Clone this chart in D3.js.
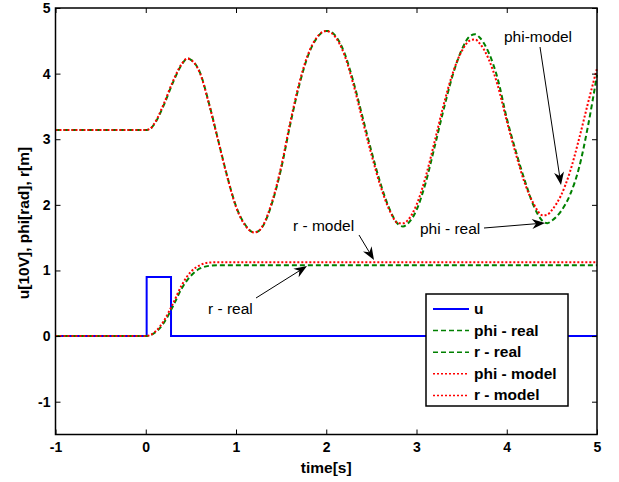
<!DOCTYPE html>
<meta charset="utf-8">
<head>
  <style>
    body { margin: 0; background: #fff; }
    text { font-family: "Liberation Sans", Arial, sans-serif; }
    .tick text { font-size: 14px; font-weight: bold; }
    .lbl { font-size: 15.5px; font-weight: bold; }
    .note { font-size: 15.5px; }
  </style>
</head>
<body>
<svg id="chart" width="619" height="482"></svg>
<script src="https://d3js.org/d3.v7.min.js"></script>
<script>

// data
var uT = [-1, 0.01, 0.01, 0.28, 0.28, 5];
var uV = [0, 0, 0.9, 0.9, 0, 0];

var phiT = [-1, 0, 0.05, 0.1, 0.2, 0.3, 0.4, 0.46, 0.5, 0.6, 0.7, 0.8, 0.9, 1.0, 1.1, 1.2, 1.25,
            1.3, 1.4, 1.5, 1.6, 1.7, 1.8, 1.9, 2.0, 2.03, 2.1, 2.2, 2.3, 2.4, 2.5, 2.6, 2.7, 2.8, 2.85, 2.9,
            3.0, 3.1, 3.2, 3.3, 3.4, 3.5, 3.6, 3.65, 3.7, 3.8, 3.9, 4.0, 4.1, 4.2, 4.3, 4.4, 4.45, 4.5,
            4.6, 4.7, 4.8, 4.9, 5.0];
var phiReal = [3.14, 3.14, 3.16, 3.24, 3.52, 3.86, 4.14, 4.23, 4.21, 4.02, 3.55, 3.0, 2.45, 1.98, 1.70, 1.58, 1.60,
               1.68, 2.03, 2.55, 3.22, 3.82, 4.28, 4.55, 4.65, 4.65, 4.58, 4.32, 3.88, 3.35, 2.82, 2.33, 1.94, 1.70, 1.67, 1.71,
               1.92, 2.33, 2.88, 3.45, 3.97, 4.36, 4.58, 4.60, 4.55, 4.32, 3.92, 3.32, 2.82, 2.37, 1.98, 1.75, 1.72, 1.76,
               1.90, 2.15, 2.56, 3.20, 3.98];
var phiModel = [3.14, 3.14, 3.16, 3.25, 3.54, 3.88, 4.15, 4.23, 4.21, 4.01, 3.54, 2.99, 2.44, 1.97, 1.69, 1.58, 1.60,
                1.69, 2.05, 2.58, 3.25, 3.85, 4.30, 4.56, 4.65, 4.64, 4.56, 4.29, 3.84, 3.30, 2.77, 2.29, 1.92, 1.72, 1.72, 1.76,
                2.00, 2.42, 2.96, 3.52, 4.00, 4.34, 4.51, 4.52, 4.46, 4.22, 3.82, 3.28, 2.78, 2.33, 2.01, 1.84, 1.85, 1.92,
                2.14, 2.50, 3.00, 3.55, 4.08];

var rT = [-1, 0, 0.1, 0.2, 0.3, 0.4, 0.5, 0.6, 0.7, 0.8, 0.9, 5];
var rReal = [0, 0, 0.05, 0.20, 0.45, 0.73, 0.92, 1.03, 1.07, 1.08, 1.08, 1.08];
var rModel = [0, 0, 0.06, 0.23, 0.49, 0.78, 0.98, 1.08, 1.12, 1.125, 1.125, 1.125];

var xTicks = [-1, 0, 1, 2, 3, 4, 5];
var yTicks = [-1, 0, 1, 2, 3, 4, 5];

var seriesNames = ["u", "phi - real", "r - real", "phi - model", "r - model"];
var seriesColors = ["#0000ff", "#008000", "#008000", "#ff0000", "#ff0000"];
var seriesDash = [null, "5,3", "5,3", "2,2", "2,2"];

var notes = [
  { text: "phi-model", tx: 504, ty: 42, from: [540, 47], to: [561, 185] },
  { text: "phi - real", tx: 420, ty: 234, from: [484, 228], to: [545, 223] },
  { text: "r - model", tx: 293, ty: 231, from: [359, 235], to: [374, 260] },
  { text: "r - real", tx: 208, ty: 314, from: [256, 298], to: [307, 266] }
];

var svg = d3.select("#chart");
var pLeft = 55.5, pRight = 597, pTop = 8, pBottom = 434.5;

var x = d3.scaleLinear().domain([-1, 5]).range([pLeft, pRight]);
var y = d3.scaleLinear().domain([-1.5, 5]).range([pBottom, pTop]);

var series = [
  { t: uT, v: uV },
  { t: phiT, v: phiReal },
  { t: rT, v: rReal },
  { t: phiT, v: phiModel },
  { t: rT, v: rModel }
];

var plot = svg.append("g");
series.forEach(function(s, i) {
  var pts = s.t.map(function(t, j) { return [t, s.v[j]]; });
  var line = d3.line()
    .x(function(d) { return x(d[0]); })
    .y(function(d) { return y(d[1]); })
    .curve(i == 0 ? d3.curveLinear : d3.curveMonotoneX);
  plot.append("path")
    .attr("d", line(pts))
    .attr("fill", "none")
    .attr("stroke", seriesColors[i])
    .attr("stroke-width", 2)
    .attr("stroke-dasharray", seriesDash[i]);
});

// axes, ticks inward on all four sides
var fmt = function(d) { return String(d); };
function styleAxis(g) {
  g.select(".domain").remove();
  g.selectAll(".tick line").attr("stroke", "#000").attr("stroke-width", 1);
  g.selectAll(".tick text").attr("fill", "#000");
}
svg.append("g").attr("transform", "translate(0," + pBottom + ")")
  .call(d3.axisBottom(x).tickValues(xTicks).tickSizeInner(-5).tickSizeOuter(0).tickPadding(8).tickFormat(fmt))
  .call(styleAxis);
svg.append("g").attr("transform", "translate(0," + pTop + ")")
  .call(d3.axisTop(x).tickValues(xTicks).tickSizeInner(-5).tickSizeOuter(0).tickFormat(""))
  .call(styleAxis);
svg.append("g").attr("transform", "translate(" + pLeft + ",0)")
  .call(d3.axisLeft(y).tickValues(yTicks).tickSizeInner(-5).tickSizeOuter(0).tickPadding(5).tickFormat(fmt))
  .call(styleAxis);
svg.append("g").attr("transform", "translate(" + pRight + ",0)")
  .call(d3.axisRight(y).tickValues(yTicks).tickSizeInner(-5).tickSizeOuter(0).tickFormat(""))
  .call(styleAxis);

svg.append("rect")
  .attr("x", pLeft).attr("y", pTop)
  .attr("width", pRight - pLeft).attr("height", pBottom - pTop)
  .attr("fill", "none").attr("stroke", "#000").attr("stroke-width", 1.5);

svg.append("text").attr("class", "lbl")
  .attr("x", x(2)).attr("y", 473).attr("text-anchor", "middle").text("time[s]");
svg.append("text").attr("class", "lbl")
  .attr("transform", "translate(29,223) rotate(-90)")
  .attr("text-anchor", "middle").text("u[10V], phi[rad], r[m]");

// annotations with arrows
notes.forEach(function(n) {
  svg.append("text").attr("class", "note").attr("x", n.tx).attr("y", n.ty).text(n.text);
  var dx = n.to[0] - n.from[0], dy = n.to[1] - n.from[1];
  var len = Math.sqrt(dx * dx + dy * dy), ux = dx / len, uy = dy / len;
  svg.append("line")
    .attr("x1", n.from[0]).attr("y1", n.from[1])
    .attr("x2", n.to[0] - ux * 4).attr("y2", n.to[1] - uy * 4)
    .attr("stroke", "#000").attr("stroke-width", 1);
  var hl = 13, hw = 5, back = 9;
  var bx = n.to[0] - ux * hl, by = n.to[1] - uy * hl;
  var mx = n.to[0] - ux * back, my = n.to[1] - uy * back;
  svg.append("path")
    .attr("d", "M" + n.to[0] + "," + n.to[1] +
      "L" + (bx - uy * hw) + "," + (by + ux * hw) +
      "L" + mx + "," + my +
      "L" + (bx + uy * hw) + "," + (by - ux * hw) + "Z")
    .attr("fill", "#000");
});

// legend
var lg = svg.append("g");
lg.append("rect").attr("x", 426).attr("y", 294).attr("width", 142).attr("height", 112)
  .attr("fill", "#fff").attr("stroke", "#000").attr("stroke-width", 1.5);
seriesNames.forEach(function(name, i) {
  var ly = 309 + i * 21.6;
  lg.append("line")
    .attr("x1", 433).attr("x2", 469).attr("y1", ly).attr("y2", ly)
    .attr("stroke", seriesColors[i]).attr("stroke-width", i == 0 ? 2 : 1.5)
    .attr("stroke-dasharray", seriesDash[i]);
  lg.append("text").attr("class", "lbl")
    .attr("x", 474).attr("y", ly + 5).text(name);
});

</script>
</body>
